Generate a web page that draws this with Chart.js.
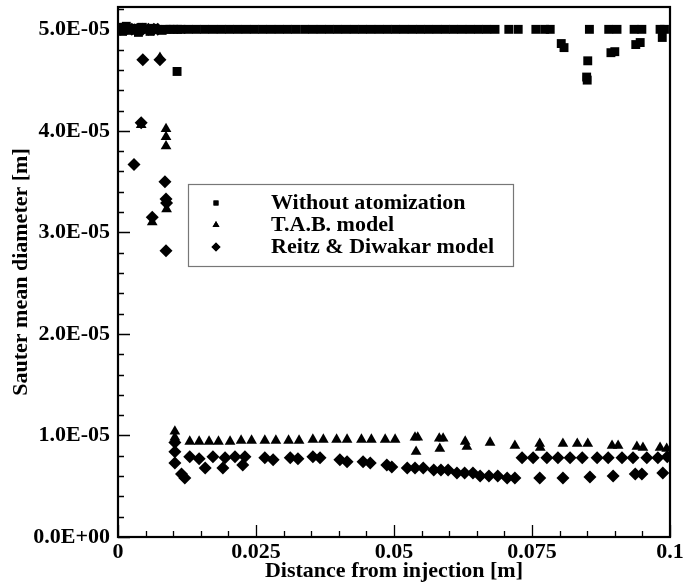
<!DOCTYPE html>
<html>
<head>
<meta charset="utf-8">
<script src="https://cdn.jsdelivr.net/npm/chart.js@4.4.0/dist/chart.umd.min.js"></script>
<style>
  html, body { margin: 0; padding: 0; background: #fff; }
  #wrap { width: 697px; height: 585px; }
</style>
</head>
<body>
<div id="wrap"><canvas id="chartSmd"></canvas></div>
<script>
'use strict';

// series labels
var seriesNames = ['Without atomization', 'T.A.B. model', 'Reitz & Diwakar model'];

// Without atomization (x in m, diameter in 1e-5 m)
var woX = [0.0000, 0.0008, 0.0015, 0.0022, 0.0030, 0.0037, 0.0044, 0.0051, 0.0058, 0.0065, 0.0072, 0.0080, 0.0087, 0.0094, 0.0101, 0.0108, 0.0114,
    0.0127, 0.0142, 0.0157, 0.0172, 0.0187, 0.0202, 0.0217, 0.0232, 0.0247, 0.0262, 0.0277, 0.0292, 0.0307, 0.0322, 0.0338, 0.0353,
    0.0368, 0.0383, 0.0398, 0.0413, 0.0428, 0.0443, 0.0458, 0.0473, 0.0488, 0.0503, 0.0518, 0.0533, 0.0548, 0.0563, 0.0578, 0.0593,
    0.0608, 0.0623, 0.0638, 0.0653, 0.0668, 0.0683,
    0.0708, 0.0725, 0.0757, 0.0773, 0.0783, 0.0854, 0.0889, 0.0904, 0.0935, 0.0949, 0.0982, 0.0990,
    0.0107, 0.0803, 0.0808, 0.0851, 0.0849, 0.0850, 0.0893, 0.0900, 0.0938, 0.0946, 0.0986];
var woY = [5.02, 4.98, 5.03, 4.99, 5.01, 4.97, 5.02, 5.00, 4.98, 5.01, 5.00, 4.99, 5.00, 5.00, 5.00, 5.00, 5.00,
    5.00, 5.00, 5.00, 5.00, 5.00, 5.00, 5.00, 5.00, 5.00, 5.00, 5.00, 5.00, 5.00, 5.00, 5.00, 5.00,
    5.00, 5.00, 5.00, 5.00, 5.00, 5.00, 5.00, 5.00, 5.00, 5.00, 5.00, 5.00, 5.00, 5.00, 5.00, 5.00,
    5.00, 5.00, 5.00, 5.00, 5.00, 5.00,
    5.00, 5.00, 5.00, 5.00, 5.00, 5.00, 5.00, 5.00, 5.00, 5.00, 5.00, 5.00,
    4.585, 4.86, 4.82, 4.69, 4.53, 4.50, 4.77, 4.78, 4.85, 4.87, 4.92];

// T.A.B. model
var tabX = [0.0010, 0.0030, 0.0050, 0.0076, 0.0042, 0.0087, 0.0087, 0.0087, 0.0088, 0.0062,
    0.0103, 0.0103, 0.0130, 0.0147, 0.0165, 0.0182, 0.0203, 0.0223, 0.0242, 0.0266, 0.0286, 0.0309,
    0.0328, 0.0353, 0.0372, 0.0396, 0.0415, 0.0441, 0.0459, 0.0484, 0.0502,
    0.0538, 0.0543, 0.0540, 0.0582, 0.0589, 0.0583, 0.0629, 0.0632, 0.0674, 0.0719, 0.0764, 0.0765,
    0.0806, 0.0832, 0.0851, 0.0895, 0.0906, 0.0940, 0.0951, 0.0982, 0.0994];
var tabY = [5.00, 5.00, 5.00, 4.72, 4.06, 4.02, 3.94, 3.85, 3.23, 3.10,
    1.04, 0.98, 0.94, 0.94, 0.94, 0.94, 0.94, 0.95, 0.95, 0.95, 0.95, 0.95,
    0.95, 0.96, 0.96, 0.96, 0.96, 0.96, 0.96, 0.96, 0.96,
    0.98, 0.98, 0.84, 0.97, 0.97, 0.87, 0.94, 0.89, 0.93, 0.90, 0.92, 0.88,
    0.92, 0.92, 0.92, 0.90, 0.90, 0.89, 0.88, 0.88, 0.87];

// Reitz & Diwakar model
var rdX = [0.0005, 0.0015, 0.0025, 0.0035, 0.0045, 0.0055, 0.0065, 0.0072,
    0.0045, 0.0076, 0.0042, 0.0029, 0.0085, 0.0087, 0.0088, 0.0062, 0.0087,
    0.0103, 0.0103, 0.0103, 0.0115, 0.0121,
    0.0130, 0.0147, 0.0158, 0.0172, 0.0190, 0.0194, 0.0212, 0.0226, 0.0230, 0.0266, 0.0281, 0.0312,
    0.0326, 0.0353, 0.0366, 0.0402, 0.0415, 0.0444, 0.0457, 0.0487, 0.0496, 0.0524, 0.0538, 0.0553,
    0.0572, 0.0585, 0.0598, 0.0614, 0.0628, 0.0643, 0.0656, 0.0672, 0.0688, 0.0705, 0.0719, 0.0764,
    0.0806, 0.0855, 0.0897, 0.0937, 0.0949, 0.0987,
    0.0732, 0.0752, 0.0777, 0.0797, 0.0819, 0.0841, 0.0868, 0.0888, 0.0913, 0.0933, 0.0958, 0.0978, 0.0995];
var rdY = [5.00, 5.00, 5.00, 5.00, 5.00, 5.00, 5.00, 5.00,
    4.70, 4.70, 4.08, 3.67, 3.50, 3.33, 3.29, 3.15, 2.82,
    0.93, 0.84, 0.73, 0.62, 0.58,
    0.79, 0.77, 0.68, 0.79, 0.68, 0.78, 0.79, 0.71, 0.79, 0.78, 0.76, 0.78,
    0.77, 0.79, 0.78, 0.76, 0.74, 0.74, 0.73, 0.71, 0.69, 0.68, 0.68, 0.68,
    0.66, 0.66, 0.66, 0.63, 0.63, 0.63, 0.60, 0.60, 0.60, 0.58, 0.58, 0.58,
    0.58, 0.59, 0.60, 0.62, 0.62, 0.63,
    0.78, 0.78, 0.78, 0.78, 0.78, 0.78, 0.78, 0.78, 0.78, 0.78, 0.78, 0.78, 0.79];

// axis ticks
var xTicks = [0, 0.025, 0.05, 0.075, 0.1];
var yTicks = [0, 1e-5, 2e-5, 3e-5, 4e-5, 5e-5];

function toPoints(xs, ys) {
    return xs.map(function(x, i) { return { x: x, y: ys[i] * 1e-5 }; });
}

function sciLabel(v) {
    if (Math.abs(v) < 1e-12) return '0.0E+00';
    var parts = v.toExponential(1).split('e');
    var exp = parseInt(parts[1], 10);
    var sign = exp < 0 ? '-' : '+';
    var e = Math.abs(exp);
    return parts[0] + 'E' + sign + (e < 10 ? '0' + e : e);
}

var serif = "'Liberation Serif', 'Times New Roman', serif";

// inward ticks and the frame round the plot
var framePlugin = {
    id: 'frame',
    afterDatasetsDraw: function(chart) {
        var ctx = chart.ctx, a = chart.chartArea;
        var xs = chart.scales.x, ys = chart.scales.y;
        ctx.save();
        ctx.strokeStyle = '#000';
        ctx.lineWidth = 1.3;
        ctx.beginPath();
        for (var i = 0; i <= 20; i++) {
            var xv = i * 0.005;
            var px = Math.round(xs.getPixelForValue(xv)) + 0.5;
            var len = (i % 5 === 0) ? 12 : 6;
            ctx.moveTo(px, a.bottom);
            ctx.lineTo(px, a.bottom - len);
        }
        for (var j = 0; j <= 26; j++) {
            var yv = j * 0.2e-5;
            var py = Math.round(ys.getPixelForValue(yv)) + 0.5;
            if (py < a.top + 2) continue;
            var ylen = (j % 5 === 0) ? 12 : 6;
            ctx.moveTo(a.left, py);
            ctx.lineTo(a.left + ylen, py);
        }
        ctx.stroke();
        ctx.lineWidth = 2.2;
        ctx.strokeRect(a.left, a.top, a.right - a.left, a.bottom - a.top);
        ctx.restore();
    }
};

// legend box inside the plot
var boxLegend = {
    id: 'boxLegend',
    afterDraw: function(chart) {
        var ctx = chart.ctx;
        var bx = 188, by = 184, bw = 325, bh = 82;
        ctx.save();
        ctx.fillStyle = '#fff';
        ctx.fillRect(bx, by, bw, bh);
        ctx.strokeStyle = '#777';
        ctx.lineWidth = 1.2;
        ctx.strokeRect(bx + 0.5, by + 0.5, bw, bh);
        ctx.font = 'bold 22px ' + serif;
        ctx.textBaseline = 'middle';
        ctx.fillStyle = '#000';
        var sizes = [3.5, 4, 4.5];
        chart.data.datasets.forEach(function(ds, i) {
            var ry = 203 + i * 22;
            Chart.helpers.drawPoint(ctx, {
                pointStyle: ds.pointStyle, rotation: 0, radius: sizes[i], borderWidth: 0
            }, 216, ry);
            ctx.fill();
            ctx.fillText(ds.label, 271, ry);
        });
        ctx.restore();
    }
};

var ctxSmd = document.getElementById('chartSmd');
var smdChart = new Chart(ctxSmd, {
    type: 'scatter',
    data: {
        datasets: [{
            label: seriesNames[0],
            data: toPoints(woX, woY),
            pointStyle: 'rect',
            pointRadius: 6.3,
            backgroundColor: '#000',
            borderWidth: 0,
            clip: 0
        }, {
            label: seriesNames[1],
            data: toPoints(tabX, tabY),
            pointStyle: 'triangle',
            pointRadius: 6.2,
            backgroundColor: '#000',
            borderWidth: 0,
            clip: 0
        }, {
            label: seriesNames[2],
            data: toPoints(rdX, rdY),
            pointStyle: 'rectRot',
            pointRadius: 6.5,
            backgroundColor: '#000',
            borderWidth: 0,
            clip: 0
        }]
    },
    options: {
        responsive: true,
        maintainAspectRatio: false,
        animation: false,
        layout: { padding: { top: 7, right: 27, left: 0, bottom: 0 } },
        plugins: {
            legend: { display: false },
            tooltip: { enabled: false }
        },
        scales: {
            x: {
                type: 'linear',
                min: 0,
                max: 0.1,
                afterFit: function(scale) {
                    scale.height = 48;
                    scale.paddingLeft = 0;
                    scale.paddingRight = 0;
                },
                afterBuildTicks: function(scale) {
                    scale.ticks = xTicks.map(function(v) { return { value: v }; });
                },
                grid: { display: false, drawTicks: false },
                border: { display: false },
                ticks: {
                    padding: 2,
                    color: '#000',
                    font: { family: serif, size: 22, weight: 'bold' },
                    callback: function(v) { return String(+v.toFixed(3)); }
                },
                title: {
                    display: true,
                    text: 'Distance from injection [m]',
                    color: '#000',
                    font: { family: serif, size: 22, weight: 'bold' },
                    padding: { top: 0, bottom: 0 }
                }
            },
            y: {
                type: 'linear',
                min: 0,
                max: 5.22e-5,
                afterFit: function(scale) {
                    scale.width = 118;
                    scale.paddingTop = 0;
                    scale.paddingBottom = 0;
                },
                afterBuildTicks: function(scale) {
                    scale.ticks = yTicks.map(function(v) { return { value: v }; });
                },
                grid: { display: false, drawTicks: false },
                border: { display: false },
                ticks: {
                    padding: 8,
                    color: '#000',
                    font: { family: serif, size: 22, weight: 'bold' },
                    callback: function(v) { return sciLabel(v); }
                },
                title: {
                    display: true,
                    text: 'Sauter mean diameter [m]',
                    color: '#000',
                    font: { family: serif, size: 22, weight: 'bold' },
                    padding: { top: 8, bottom: 0 }
                }
            }
        }
    },
    plugins: [framePlugin, boxLegend]
});
</script>
</body>
</html>
